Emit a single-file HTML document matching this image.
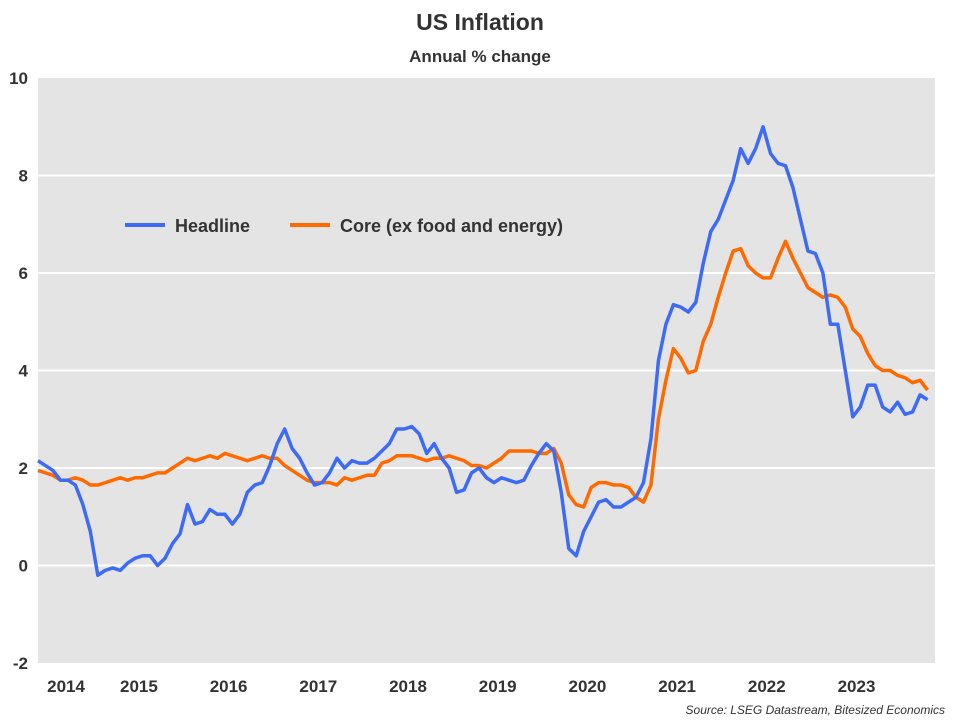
<!DOCTYPE html>
<html>
<head>
<meta charset="utf-8">
<style>
  html,body{margin:0;padding:0;background:#fff;}
  body{width:960px;height:720px;overflow:hidden;font-family:"Liberation Sans",sans-serif;}
  svg text{font-family:"Liberation Sans",sans-serif;}
</style>
</head>
<body>
<svg id="chart" width="960" height="720" viewBox="0 0 960 720" xmlns="http://www.w3.org/2000/svg">
  <text x="480" y="30" text-anchor="middle" font-size="23" font-weight="bold" fill="#333">US Inflation</text>
  <text x="480" y="62" text-anchor="middle" font-size="17" font-weight="bold" fill="#333">Annual % change</text>
  <rect x="38" y="78" width="897" height="585" fill="#e4e4e4"/>
  <g id="grid"></g>
  <g id="yaxis"></g>
  <g id="xaxis"></g>
  <g id="series"></g>
  <g>
    <g>
      <line x1="125" y1="225" x2="165" y2="225" stroke="#3d6bf5" stroke-width="4"/>
      <text x="175" y="232" font-size="18" font-weight="bold" fill="#333">Headline</text>
    </g>
    <g>
      <line x1="290" y1="225" x2="330" y2="225" stroke="#ff6a00" stroke-width="4"/>
      <text x="340" y="232" font-size="18" font-weight="bold" fill="#333">Core (ex food and energy)</text>
    </g>
  </g>
  <text x="945" y="714" text-anchor="end" font-size="12" font-style="italic" fill="#333">Source: LSEG Datastream, Bitesized Economics</text>
</svg>
<script>
const yTicks = [-2, 0, 2, 4, 6, 8, 10];
const yearLabels = ["2014","2015","2016","2017","2018","2019","2020","2021","2022","2023"];
const startYear = 2014;
const startMonth = 5; // May 2014
const headline = [
 2.15,2.05,1.95,1.75,1.75,1.65,1.25,0.7,
 -0.2,-0.1,-0.05,-0.1,0.05,0.15,0.2,0.2,0.0,0.15,0.45,0.65,
 1.25,0.85,0.9,1.15,1.05,1.05,0.85,1.05,1.5,1.65,1.7,2.05,
 2.5,2.8,2.4,2.2,1.9,1.65,1.7,1.9,2.2,2.0,2.15,2.1,
 2.1,2.2,2.35,2.5,2.8,2.8,2.85,2.7,2.3,2.5,2.2,2.0,
 1.5,1.55,1.9,2.0,1.8,1.7,1.8,1.75,1.7,1.75,2.05,2.3,
 2.5,2.35,1.5,0.35,0.2,0.7,1.0,1.3,1.35,1.2,1.2,1.3,
 1.4,1.7,2.6,4.2,4.95,5.35,5.3,5.2,5.4,6.2,6.85,7.1,
 7.5,7.9,8.55,8.25,8.55,9.0,8.45,8.25,8.2,7.75,7.1,6.45,
 6.4,6.0,4.95,4.95,4.0,3.05,3.25,3.7,3.7,3.25,3.15,3.35,
 3.1,3.15,3.5,3.4
];
const core = [
 1.95,1.9,1.85,1.75,1.75,1.8,1.75,1.65,
 1.65,1.7,1.75,1.8,1.75,1.8,1.8,1.85,1.9,1.9,2.0,2.1,
 2.2,2.15,2.2,2.25,2.2,2.3,2.25,2.2,2.15,2.2,2.25,2.2,
 2.2,2.05,1.95,1.85,1.75,1.7,1.7,1.7,1.65,1.8,1.75,1.8,
 1.85,1.85,2.1,2.15,2.25,2.25,2.25,2.2,2.15,2.2,2.2,2.25,
 2.2,2.15,2.05,2.05,2.0,2.1,2.2,2.35,2.35,2.35,2.35,2.3,
 2.3,2.4,2.1,1.45,1.25,1.2,1.6,1.7,1.7,1.65,1.65,1.6,
 1.4,1.3,1.65,3.0,3.8,4.45,4.25,3.95,4.0,4.6,4.95,5.5,
 6.0,6.45,6.5,6.15,6.0,5.9,5.9,6.3,6.65,6.3,6.0,5.7,
 5.6,5.5,5.55,5.5,5.3,4.85,4.7,4.35,4.1,4.0,4.0,3.9,
 3.85,3.75,3.8,3.6
];
const NS = "http://www.w3.org/2000/svg";
const X0 = 38, X1 = 935, Y0 = 78, Y1 = 663;
const xFirst = 38, monthW = 7.475;
function monthIndex(y, m){ return (y - startYear) * 12 + (m - startMonth); }
function xScale(i){ return xFirst + i * monthW; }
function yScale(v){ return Y1 - (v - (-2)) / 12 * (Y1 - Y0); }

const grid = document.getElementById('grid');
const yaxis = document.getElementById('yaxis');
yTicks.forEach(t => {
  if (t !== -2 && t !== 10) {
    const l = document.createElementNS(NS, 'line');
    
    
    l.setAttribute('x1', X0); l.setAttribute('x2', X1);
    l.setAttribute('y1', yScale(t)); l.setAttribute('y2', yScale(t));
    l.setAttribute('stroke', '#fff'); l.setAttribute('stroke-width', '2');
    grid.appendChild(l);
  }
  const tx = document.createElementNS(NS, 'text');
  
  
  tx.setAttribute('x', 28); tx.setAttribute('y', yScale(t) + 6);
  tx.setAttribute('text-anchor', 'end');
  tx.setAttribute('font-size', '17'); tx.setAttribute('font-weight', 'bold');
  tx.setAttribute('fill', '#333');
  tx.textContent = t;
  yaxis.appendChild(tx);
});

const xaxis = document.getElementById('xaxis');
yearLabels.forEach(lbl => {
  const y = parseInt(lbl);
  const a = Math.max(X0, xScale(monthIndex(y, 1) - 0.5));
  const b = Math.min(X1, xScale(monthIndex(y + 1, 1) - 0.5));
  const tx = document.createElementNS(NS, 'text');
  
  
  tx.setAttribute('x', (a + b) / 2); tx.setAttribute('y', 692);
  tx.setAttribute('text-anchor', 'middle');
  tx.setAttribute('font-size', '17'); tx.setAttribute('font-weight', 'bold');
  tx.setAttribute('fill', '#333');
  tx.textContent = lbl;
  xaxis.appendChild(tx);
});

const series = document.getElementById('series');
function drawLine(vals, color, name){
  const p = document.createElementNS(NS, 'polyline');
  
  
  p.setAttribute('points', vals.map((v, i) => xScale(i).toFixed(2) + ',' + yScale(v).toFixed(2)).join(' '));
  p.setAttribute('fill', 'none'); p.setAttribute('stroke', color);
  p.setAttribute('stroke-width', '3.5'); p.setAttribute('stroke-linejoin', 'round');
  series.appendChild(p);
}
drawLine(core, '#ff6a00', 'core-line');
drawLine(headline, '#3d6bf5', 'headline-line');
</script>
</body>
</html>
